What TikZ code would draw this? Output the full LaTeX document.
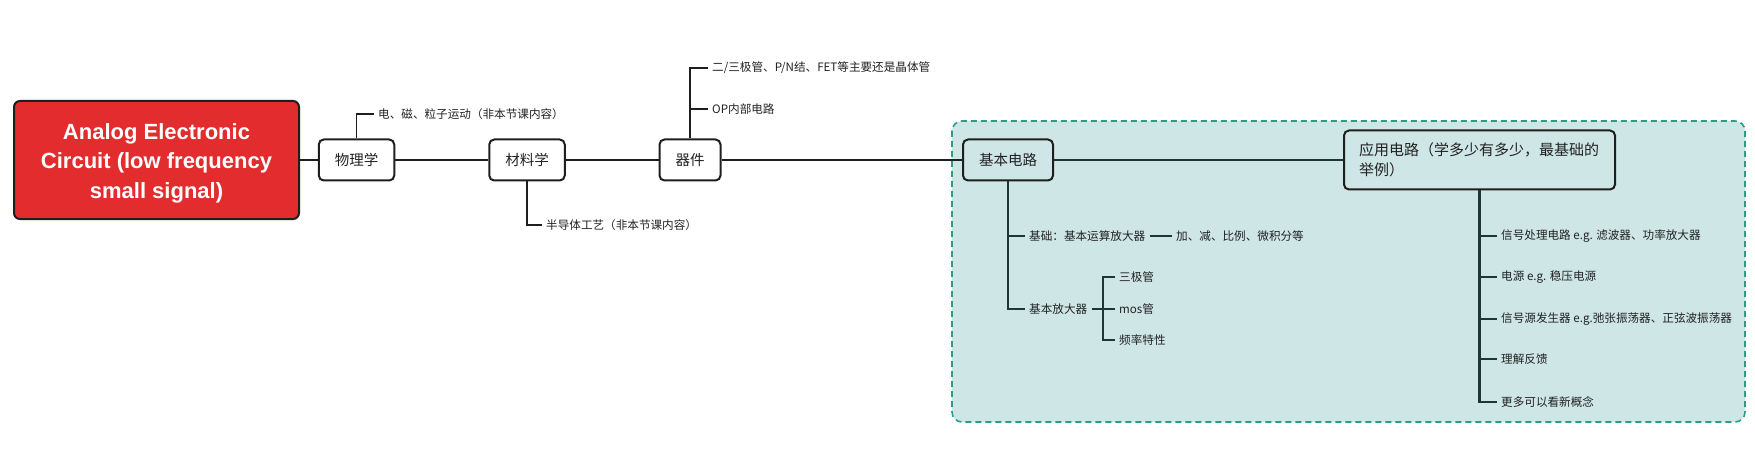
\documentclass[tikz,border=0pt]{standalone}
\usepackage{fontspec}
\setmainfont{Noto Sans CJK SC}
\newfontfamily\titlefont{Liberation Sans}
\definecolor{rootred}{HTML}{E22C2E}
\definecolor{linec}{HTML}{1E1E1E}
\definecolor{textc}{HTML}{222222}
\definecolor{grpfill}{HTML}{CEE6E6}
\definecolor{grpline}{HTML}{2A9D86}
\definecolor{tealline}{HTML}{1F3636}
\tikzset{
  rootbox/.style={draw=linec, fill=rootred, line width=2pt, rounded corners=6pt,
    minimum width=285pt, minimum height=118pt},
  roottext/.style={text=white, align=center,
    font=\titlefont\bfseries\fontsize{22}{29.5}\selectfont},
  topic/.style={draw=linec, line width=2pt, rounded corners=5pt, text=textc,
    font=\fontsize{14.5}{20}\selectfont, inner xsep=16pt, minimum height=41pt},
  leaf/.style={font=\fontsize{11.6}{14}\selectfont, inner xsep=4.5pt, inner ysep=1pt,
    anchor=west, text=textc},
  conn/.style={line width=2pt, draw=linec},
  subline/.style={line width=1.6pt, draw=linec},
  tealsub/.style={line width=2.2pt, draw=tealline},
  grp/.style={draw=grpline, fill=grpfill, line width=1.6pt, dash pattern=on 6pt off 4pt,
    rounded corners=10pt}
}
\begin{document}
\begin{tikzpicture}[x=1pt,y=-1pt]
\useasboundingbox (0,0) rectangle (1755,449);
\draw[grp] (952,121) rectangle (1745,422);

\node[rootbox] (root) at (156.5,160) {};
\node[roottext] (roottxt) at (156.5,163) {Analog Electronic\\Circuit (low frequency\\small signal)};
\node[topic] (phys) at (356.5,160) {物理学};
\node[topic] (mat) at (527,160) {材料学};
\node[topic] (dev) at (690,160) {器件};
\node[topic] (basic) at (1008,160) {基本电路};
\node[topic, font=\fontsize{15}{20}\selectfont, inner xsep=15pt, text width=241pt, align=left, minimum height=59pt] (app) at (1479.5,160)
  {应用电路（学多少有多少，最基础的\\举例）};

\draw[conn] (root.east) -- (phys.west);
\draw[conn] (phys.east) -- (mat.west);
\draw[conn] (mat.east) -- (dev.west);
\draw[conn] (dev.east) -- (basic.west);
\draw[tealsub] (basic.east) -- (app.west);

\node[leaf] (p1) at (373.5,114) {电、磁、粒子运动（非本节课内容）};
\draw[subline] (phys.north) |- (p1.west);

\node[leaf] (m1) at (541.5,225) {半导体工艺（非本节课内容）};
\draw[subline] (mat.south) |- (m1.west);

\node[leaf] (d1) at (707.5,68) {二/三极管、P/N结、FET等主要还是晶体管};
\node[leaf] (d2) at (707.5,109) {OP内部电路};
\draw[subline] (dev.north) |- (d1.west);
\draw[subline] (dev.north) |- (d2.west);

\node[leaf] (b1) at (1024.5,236) {基础：基本运算放大器};
\node[leaf] (b2) at (1024.5,309) {基本放大器};
\node[leaf] (b11) at (1171.5,236) {加、减、比例、微积分等};
\draw[tealsub] (basic.south) |- (b1.west);
\draw[tealsub] (basic.south) |- (b2.west);
\draw[tealsub] (b1.east) -- (b11.west);

\coordinate (j) at (1103,309);
\node[leaf] (a1) at (1114.5,277) {三极管};
\node[leaf] (a2) at (1114.5,309) {mos管};
\node[leaf] (a3) at (1114.5,340) {频率特性};
\draw[tealsub] (b2.east) -- (j);
\draw[tealsub] (j) |- (a1.west);
\draw[tealsub] (j) |- (a3.west);
\draw[tealsub] (j) -- (a2.west);

\node[leaf] (c1) at (1496.5,236) {信号处理电路 e.g. 滤波器、功率放大器};
\node[leaf] (c2) at (1496.5,277) {电源 e.g. 稳压电源};
\node[leaf] (c3) at (1496.5,319) {信号源发生器 e.g.弛张振荡器、正弦波振荡器};
\node[leaf] (c4) at (1496.5,359) {理解反馈};
\node[leaf] (c5) at (1496.5,402) {更多可以看新概念};
\foreach \c in {c1,c2,c3,c4,c5} \draw[tealsub] (app.south) |- (\c.west);
\end{tikzpicture}
\end{document}
